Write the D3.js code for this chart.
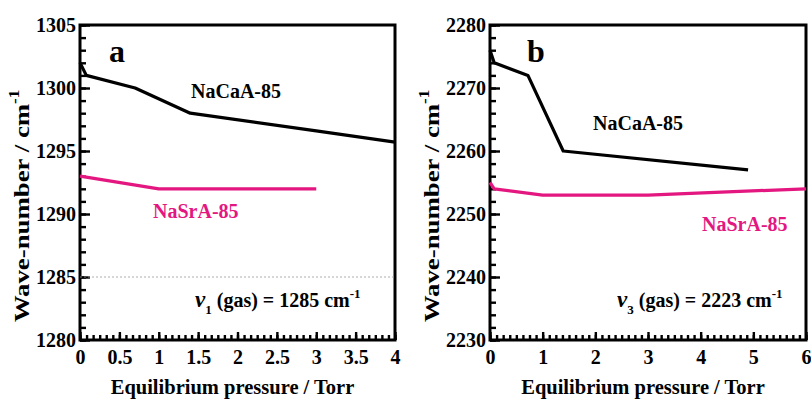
<!DOCTYPE html>
<html>
<head>
<meta charset="utf-8">
<script src="https://cdn.jsdelivr.net/npm/d3@7"></script>
<style>
  html, body { margin: 0; padding: 0; background: #fff; }
  svg { display: block; }
</style>
</head>
<body>
<svg id="chart" width="811" height="401"></svg>
<script>
// Panel a: v1 band of adsorbed CO2
const pressureA_CaA = [0, 0.08, 0.7, 1.4, 3, 4];
const waveA_CaA     = [1302, 1301, 1300, 1298, 1296.6, 1295.7];
const pressureA_SrA = [0, 1, 3];
const waveA_SrA     = [1293, 1292, 1292];
const gasA = 1285;

// Panel b: v3 band of adsorbed CO2
const pressureB_CaA = [0, 0.08, 0.72, 1.39, 4.9];
const waveB_CaA     = [2276, 2274, 2272, 2260, 2257];
const pressureB_SrA = [0, 0.08, 1.0, 3.0, 6];
const waveB_SrA     = [2255, 2254, 2253, 2253, 2254];
const gasB = 2223;

// Tick values
const xTicksA = [0, 0.5, 1, 1.5, 2, 2.5, 3, 3.5, 4];
const yTicksA = [1280, 1285, 1290, 1295, 1300, 1305];
const xTicksB = [0, 1, 2, 3, 4, 5, 6];
const yTicksB = [2230, 2240, 2250, 2260, 2270, 2280];

const seriesNames = ["NaCaA-85", "NaSrA-85"];
const colors = { CaA: "#000000", SrA: "#e3177f" };

const FONT = "Liberation Serif";
const svg = d3.select("#chart");

function styleText(sel, size) {
  return sel.style("font-family", FONT).style("font-weight", "bold")
    .style("font-size", size + "px").style("fill", "#000");
}

function panel(cfg) {
  const x = d3.scaleLinear().domain(cfg.xDomain).range([cfg.left, cfg.right]);
  const y = d3.scaleLinear().domain(cfg.yDomain).range([cfg.bottom, cfg.top]);
  const g = svg.append("g");

  // minor ticks
  const xMinor = d3.range(cfg.xDomain[0], cfg.xDomain[1] + 1e-9, cfg.xMinorStep);
  const yMinor = d3.range(cfg.yDomain[0], cfg.yDomain[1] + 1e-9, cfg.yMinorStep);
  g.append("g").attr("transform", `translate(0,${cfg.bottom})`)
    .call(d3.axisBottom(x).tickValues(xMinor).tickFormat("").tickSize(-5).tickSizeOuter(0))
    .call(s => s.select(".domain").remove())
    .call(s => s.selectAll("line").attr("stroke-width", 2.4));
  g.append("g").attr("transform", `translate(${cfg.left},0)`)
    .call(d3.axisLeft(y).tickValues(yMinor).tickFormat("").tickSize(-6).tickSizeOuter(0))
    .call(s => s.select(".domain").remove())
    .call(s => s.selectAll("line").attr("stroke-width", 2.4));

  // major ticks with labels
  g.append("g").attr("transform", `translate(0,${cfg.bottom})`)
    .call(d3.axisBottom(x).tickValues(cfg.xTicks).tickFormat(d3.format("")).tickSize(-8).tickSizeOuter(0).tickPadding(10))
    .call(s => s.select(".domain").remove())
    .call(s => s.selectAll("line").attr("stroke-width", 2.4))
    .call(s => styleText(s.selectAll("text"), 20));
  g.append("g").attr("transform", `translate(${cfg.left},0)`)
    .call(d3.axisLeft(y).tickValues(cfg.yTicks).tickFormat(d3.format("")).tickSize(-10).tickSizeOuter(0).tickPadding(4))
    .call(s => s.select(".domain").remove())
    .call(s => s.selectAll("line").attr("stroke-width", 2.4))
    .call(s => styleText(s.selectAll("text"), 20));

  // frame
  g.append("rect")
    .attr("x", cfg.left).attr("y", cfg.top)
    .attr("width", cfg.right - cfg.left).attr("height", cfg.bottom - cfg.top)
    .attr("fill", "none").attr("stroke", "#000").attr("stroke-width", 3);

  // reference gas line
  if (cfg.gasLine != null) {
    g.append("line")
      .attr("x1", x(cfg.xDomain[0])).attr("x2", x(cfg.xDomain[1]))
      .attr("y1", y(cfg.gasLine)).attr("y2", y(cfg.gasLine))
      .attr("stroke", "#999").attr("stroke-width", 0.8).attr("stroke-dasharray", "2,2");
  }

  const line = d3.line().x(d => x(d[0])).y(d => y(d[1]));
  cfg.series.forEach(s => {
    g.append("path")
      .datum(d3.zip(s.px, s.wy))
      .attr("d", line)
      .attr("fill", "none")
      .attr("stroke", s.color)
      .attr("stroke-width", 3.2)
      .attr("stroke-linejoin", "round");
  });

  // panel letter
  styleText(g.append("text").attr("x", cfg.letterX).attr("y", 62), 32).text(cfg.letter);

  // series labels
  cfg.labels.forEach(l => {
    styleText(g.append("text").attr("x", l.x).attr("y", l.y), 20)
      .style("fill", l.color).text(l.text);
  });

  // gas band note
  const note = styleText(g.append("text").attr("x", cfg.noteX).attr("y", 307), 20);
  note.append("tspan").style("font-style", "italic").style("font-size", "23px").text("\u03bd");
  note.append("tspan").style("font-size", "13px").attr("dy", 7).text(cfg.noteSub);
  note.append("tspan").attr("dy", -7).text(" (gas) = " + cfg.noteValue + " cm");
  note.append("tspan").style("font-size", "13px").attr("dy", -9).text("-1");

  // axis titles
  styleText(g.append("text")
    .attr("x", (cfg.left + cfg.right) / 2 - 5).attr("y", 394)
    .attr("text-anchor", "middle"), 20.5)
    .text("Equilibrium pressure / Torr");

  const yt = styleText(g.append("text")
    .attr("transform", `translate(${cfg.yTitleX},206) rotate(-90) scale(1.22,1)`)
    .attr("text-anchor", "middle"), 22);
  yt.append("tspan").text("Wave-number / cm");
  yt.append("tspan").style("font-size", "14px").attr("dy", -10).text("-1");
}

panel({
  left: 80, right: 395, top: 25, bottom: 340,
  xDomain: [0, 4], yDomain: [1280, 1305],
  xTicks: xTicksA, yTicks: yTicksA,
  xMinorStep: 0.5 / 6, yMinorStep: 1,
  gasLine: gasA,
  series: [
    { px: pressureA_CaA, wy: waveA_CaA, color: colors.CaA },
    { px: pressureA_SrA, wy: waveA_SrA, color: colors.SrA }
  ],
  letter: "a", letterX: 109,
  labels: [
    { text: seriesNames[0], x: 191, y: 98, color: colors.CaA },
    { text: seriesNames[1], x: 153, y: 218, color: colors.SrA }
  ],
  noteX: 195, noteSub: "1", noteValue: gasA,
  yTitleX: 29
});

panel({
  left: 490, right: 806, top: 25, bottom: 340,
  xDomain: [0, 6], yDomain: [2230, 2280],
  xTicks: xTicksB, yTicks: yTicksB,
  xMinorStep: 1 / 8, yMinorStep: 2,
  gasLine: null,
  series: [
    { px: pressureB_CaA, wy: waveB_CaA, color: colors.CaA },
    { px: pressureB_SrA, wy: waveB_SrA, color: colors.SrA }
  ],
  letter: "b", letterX: 527,
  labels: [
    { text: seriesNames[0], x: 593, y: 130, color: colors.CaA },
    { text: seriesNames[1], x: 702, y: 231, color: colors.SrA }
  ],
  noteX: 617, noteSub: "3", noteValue: gasB,
  yTitleX: 439
});
</script>
</body>
</html>
